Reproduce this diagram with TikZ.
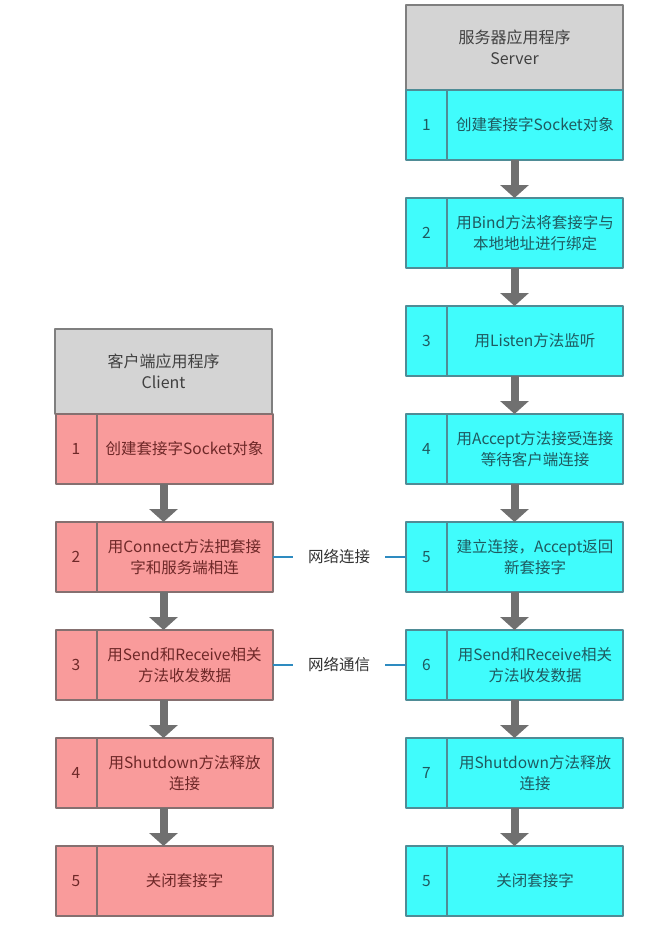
\documentclass[tikz,border=0pt]{standalone}
\usepackage{fontspec}
\setmainfont{Noto Sans CJK SC}
\usetikzlibrary{arrows.meta,positioning}
\definecolor{headgray}{HTML}{D4D4D4}
\definecolor{headline}{HTML}{7F7F7F}
\definecolor{srvfill}{HTML}{40FCFC}
\definecolor{srvline}{HTML}{4F8C96}
\definecolor{srvtext}{HTML}{1F5A60}
\definecolor{clifill}{HTML}{F99B9B}
\definecolor{cliline}{HTML}{857070}
\definecolor{clitext}{HTML}{6E2828}
\definecolor{flowgray}{HTML}{707070}
\definecolor{netblue}{HTML}{2E8BC0}
\begin{document}
\begin{tikzpicture}[x=1pt, y=-1pt, line join=round,
	cellfont/.style={font=\fontsize{15.5}{20.5}\selectfont, align=center},
	headbox/.style={cellfont, font=\fontsize{16}{20.5}\selectfont, fill=headgray, draw=headline, text=black!75, line width=2pt,
		minimum width=217pt, minimum height=85pt, inner sep=0pt, outer sep=0pt},
	numcell/.style={cellfont, line width=2pt, minimum width=41pt, minimum height=70pt, inner sep=0pt, outer sep=0pt},
	txtcell/.style={cellfont, line width=2pt, minimum width=176pt, minimum height=70pt, inner sep=0pt, outer sep=0pt},
	srv/.style={fill=srvfill, draw=srvline, text=srvtext},
	cli/.style={fill=clifill, draw=cliline, text=clitext},
	flow/.style={draw=flowgray, line width=8pt, -{Triangle[width=28pt,length=13pt]}},
	netline/.style={draw=netblue, line width=2pt},
	netlabel/.style={cellfont, text=black!80, minimum width=92pt, inner sep=0pt, outer sep=0pt}]
	\useasboundingbox (0,0) rectangle (661,926);
	
	% server column
	\node[headbox] (sh) at (514.5,47.5) {服务器应用程序\\Server};
	\foreach \i/\n/\t in {1/1/{创建套接字Socket对象}, 2/2/{用Bind方法将套接字与\\本地地址进行绑定},
		3/3/{用Listen方法监听}, 4/4/{用Accept方法接受连接\\等待客户端连接}, 5/5/{建立连接，Accept返回\\新套接字},
		6/6/{用Send和Receive相关\\方法收发数据}, 7/7/{用Shutdown方法释放\\连接}, 8/5/{关闭套接字}} {
		\node[numcell, srv] (sn\i) at (426.5,{125+108*(\i-1)}) {\n};
		\node[txtcell, srv, right=0pt of sn\i] (st\i) {\t};
	}
	\foreach \i/\j in {1/2, 2/3, 3/4, 4/5, 5/6, 6/7, 7/8}
		\draw[flow] (st\i.south -| sh) -- (st\j.north -| sh);
	
	% client column
	\node[headbox] (ch) at (163.5,371.5) {客户端应用程序\\Client};
	\foreach \i/\t in {1/{创建套接字Socket对象}, 2/{用Connect方法把套接\\字和服务端相连},
		3/{用Send和Receive相关\\方法收发数据}, 4/{用Shutdown方法释放\\连接}, 5/{关闭套接字}} {
		\node[numcell, cli] (cn\i) at (76,{449+108*(\i-1)}) {\i};
		\node[txtcell, cli, right=0pt of cn\i] (ct\i) {\t};
	}
	\foreach \i/\j in {1/2, 2/3, 3/4, 4/5}
		\draw[flow] (ct\i.south -| ch) -- (ct\j.north -| ch);
	
	% network links
	\node[netlabel] (lk1) at (339,557) {网络连接};
	\node[netlabel] (lk2) at (339,665) {网络通信};
	\draw[netline] (ct2.east) -- (lk1.west) (lk1.east) -- (sn5.west);
	\draw[netline] (ct3.east) -- (lk2.west) (lk2.east) -- (sn6.west);
\end{tikzpicture}
\end{document}
